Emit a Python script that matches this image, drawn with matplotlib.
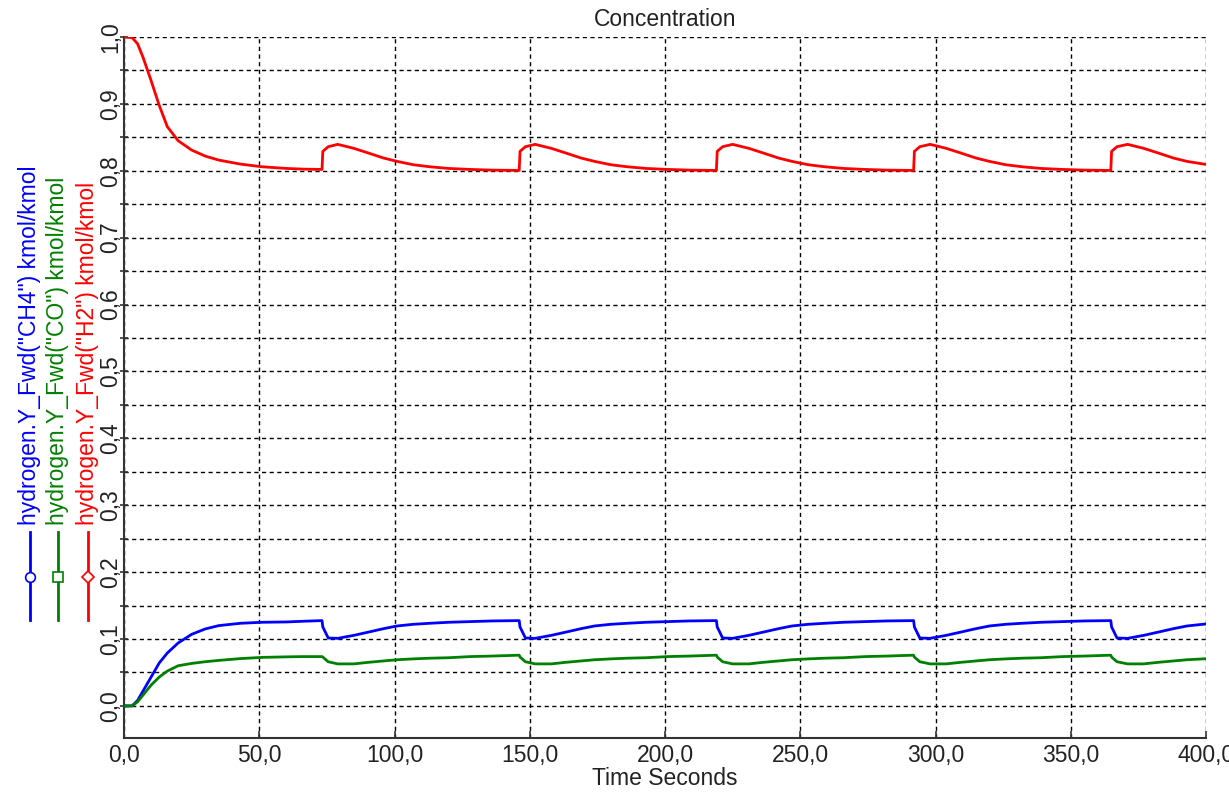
import matplotlib
matplotlib.use("Agg")
import matplotlib.pyplot as plt
from matplotlib.lines import Line2D
from matplotlib.ticker import MultipleLocator, FuncFormatter

plt.rcParams['font.family'] = ['Liberation Sans', 'DejaVu Sans']
FontSize = 16.5

# time axis (seconds), shared by all three series
time_s = [0, 3, 5, 7, 10, 13, 16, 20, 25, 30, 35, 43, 51, 60, 66, 73.2,
          73.5, 75.5, 79, 85, 90, 96, 101, 107, 113, 120, 128, 136, 146.1,
          146.4, 148.4, 152, 158, 163, 169, 174, 180, 186, 193, 201, 209, 219.0,
          219.3, 221.3, 225, 231, 236, 242, 247, 253, 259, 266, 274, 282, 291.9,
          292.2, 294.2, 298, 304, 309, 315, 320, 326, 332, 339, 347, 355, 364.8,
          365.1, 367.1, 371, 377, 382, 388, 393, 400]

h2 = [1.0, 0.999, 0.99, 0.97, 0.935, 0.898, 0.866, 0.845, 0.831, 0.822, 0.816, 0.810, 0.806, 0.8035, 0.8025, 0.802,
      0.829, 0.836, 0.8395, 0.8335, 0.827, 0.819, 0.814, 0.809, 0.806, 0.8035, 0.802, 0.801, 0.8005,
      0.829, 0.836, 0.8395, 0.8335, 0.827, 0.819, 0.814, 0.809, 0.806, 0.8035, 0.802, 0.801, 0.8005,
      0.829, 0.836, 0.8395, 0.8335, 0.827, 0.819, 0.814, 0.809, 0.806, 0.8035, 0.802, 0.801, 0.8005,
      0.829, 0.836, 0.8395, 0.8335, 0.827, 0.819, 0.814, 0.809, 0.806, 0.8035, 0.802, 0.801, 0.8005,
      0.829, 0.836, 0.8395, 0.8335, 0.827, 0.819, 0.814, 0.8095]

ch4 = [0, 0.0, 0.008, 0.022, 0.043, 0.064, 0.079, 0.094, 0.107, 0.115, 0.12, 0.1235, 0.125, 0.1255, 0.1265, 0.1275,
       0.118, 0.1015, 0.101, 0.1055, 0.11, 0.1155, 0.1195, 0.122, 0.1235, 0.125, 0.126, 0.127, 0.1275,
       0.118, 0.1015, 0.101, 0.1055, 0.11, 0.1155, 0.1195, 0.122, 0.1235, 0.125, 0.126, 0.127, 0.1275,
       0.118, 0.1015, 0.101, 0.1055, 0.11, 0.1155, 0.1195, 0.122, 0.1235, 0.125, 0.126, 0.127, 0.1275,
       0.118, 0.1015, 0.101, 0.1055, 0.11, 0.1155, 0.1195, 0.122, 0.1235, 0.125, 0.126, 0.127, 0.1275,
       0.118, 0.1015, 0.101, 0.1055, 0.11, 0.1155, 0.1195, 0.1225]

co = [0, 0, 0.006, 0.016, 0.031, 0.043, 0.052, 0.06, 0.0635, 0.066, 0.068, 0.0707, 0.0725, 0.0733, 0.0737, 0.0737,
      0.073, 0.066, 0.0628, 0.0628, 0.065, 0.0672, 0.069, 0.0703, 0.0713, 0.072, 0.0737, 0.0745, 0.0758,
      0.073, 0.066, 0.0628, 0.0628, 0.065, 0.0672, 0.069, 0.0703, 0.0713, 0.072, 0.0737, 0.0745, 0.0758,
      0.073, 0.066, 0.0628, 0.0628, 0.065, 0.0672, 0.069, 0.0703, 0.0713, 0.072, 0.0737, 0.0745, 0.0758,
      0.073, 0.066, 0.0628, 0.0628, 0.065, 0.0672, 0.069, 0.0703, 0.0713, 0.072, 0.0737, 0.0745, 0.0758,
      0.073, 0.066, 0.0628, 0.0628, 0.065, 0.0672, 0.069, 0.0705]

labels = ['hydrogen.Y_Fwd("CH4") kmol/kmol',
          'hydrogen.Y_Fwd("CO") kmol/kmol',
          'hydrogen.Y_Fwd("H2") kmol/kmol']
colors = ['#0000FF', '#008000', '#FF0000']
markers = ['o', 's', 'D']

fig = plt.figure(figsize=(12.29, 7.93), dpi=100)
ax = fig.add_axes([124 / 1229, 1 - 738 / 793, (1206 - 124) / 1229, (738 - 37) / 793])

ax.plot(time_s, ch4, color=colors[0], lw=2.0, zorder=3)
ax.plot(time_s, co, color=colors[1], lw=2.0, zorder=3)
ax.plot(time_s, h2, color=colors[2], lw=2.0, zorder=3)

ax.set_xlim(0, 400)
ax.set_ylim(-0.048, 1.0)

comma = FuncFormatter(lambda v, p: f"{v:.1f}".replace('.', ','))
ax.xaxis.set_major_locator(MultipleLocator(50))
ax.xaxis.set_major_formatter(comma)
ax.yaxis.set_major_locator(MultipleLocator(0.1))
ax.yaxis.set_minor_locator(MultipleLocator(0.05))
ax.yaxis.set_major_formatter(comma)

ax.grid(True, which='both', axis='y', color='black', linestyle=(0, (3, 2.5)), lw=1.0)
ax.grid(True, which='major', axis='x', color='black', linestyle=(0, (3, 2.5)), lw=1.0)

for s in ['top', 'right']:
    ax.spines[s].set_visible(False)
for s in ['left', 'bottom']:
    ax.spines[s].set_color('#333333')
    ax.spines[s].set_linewidth(1.5)

ax.tick_params(axis='x', direction='in', length=5, width=1.2, color='#333333',
               labelsize=FontSize, labelcolor='#222222', pad=4)
ax.tick_params(axis='y', which='both', direction='inout', length=6, width=1.2, color='#333333',
               labelsize=FontSize, labelcolor='#222222', pad=-2)
for lab in ax.get_yticklabels():
    lab.set_rotation(90)
    lab.set_va('center')

ax.set_title('Concentration', fontsize=FontSize, color='#222222', pad=8)
ax.set_xlabel('Time Seconds', fontsize=FontSize, color='#222222', labelpad=0)

# vertical legend on the left side
leg_x = [30, 58, 88]
for i in range(3):
    xf = leg_x[i] / 1229
    fig.add_artist(Line2D([xf, xf], [1 - 620 / 793, 1 - 532 / 793], transform=fig.transFigure,
                          color=colors[i], lw=2.0))
    fig.add_artist(Line2D([xf], [1 - 577 / 793], transform=fig.transFigure, color=colors[i],
                          marker=markers[i], markersize=7 if i != 2 else 6.5,
                          markerfacecolor='white', markeredgecolor=colors[i], markeredgewidth=1.2))
    fig.text(xf, 1 - 525 / 793, labels[i], rotation=90, ha='center', va='bottom',
             color=colors[i], fontsize=FontSize)

fig.savefig('out.png', dpi=100)
